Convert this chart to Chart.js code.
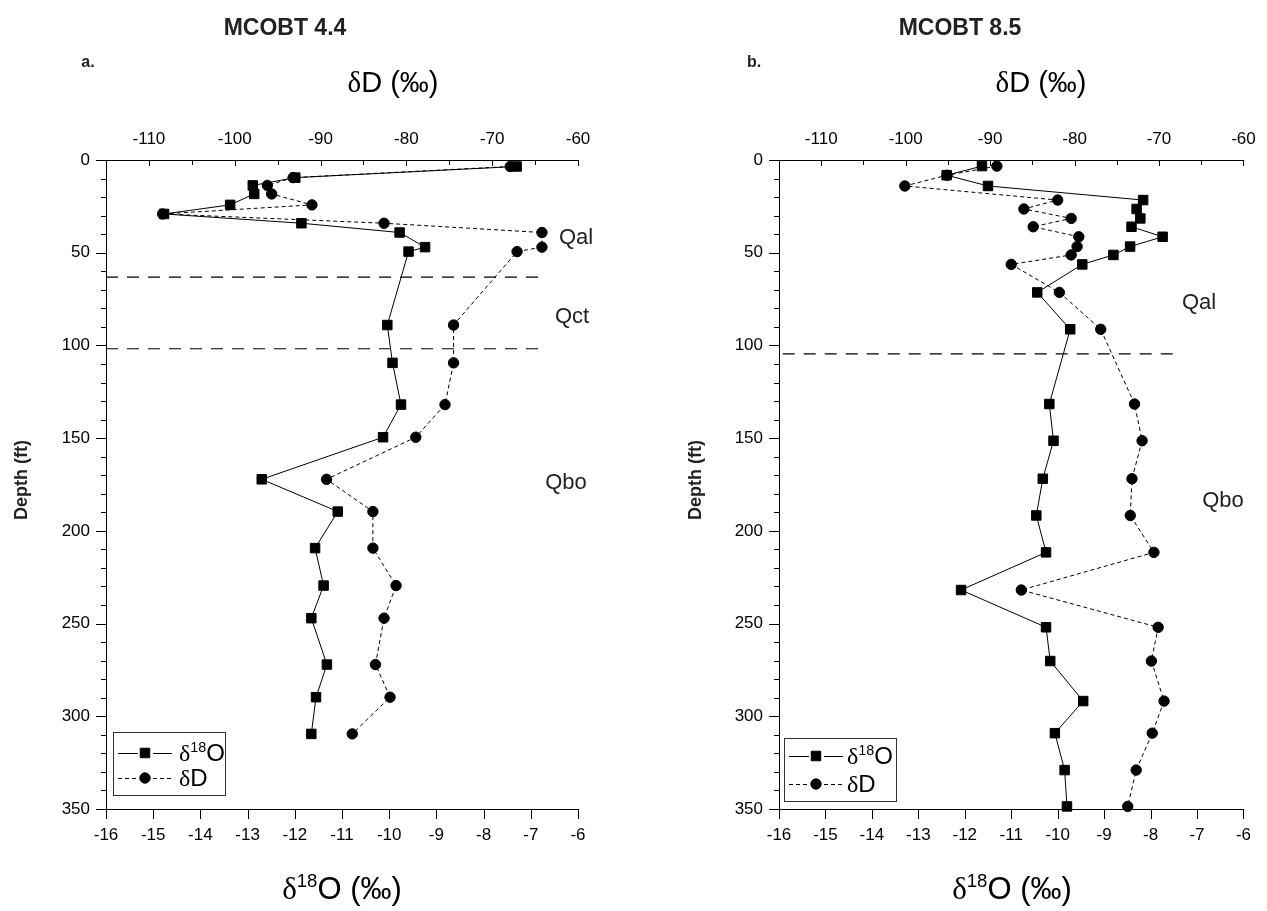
<!DOCTYPE html>
<html><head><meta charset="utf-8">
<script src="https://cdn.jsdelivr.net/npm/chart.js@4/dist/chart.umd.min.js"></script>
<style>
html,body{margin:0;padding:0;background:#fff;}
#wrap{position:relative;width:1267px;height:911px;overflow:hidden;font-family:"Liberation Sans",Arial,sans-serif;color:#000;}
canvas{position:absolute;left:0;top:0;}
#ov{position:absolute;left:0;top:0;width:1267px;height:911px;pointer-events:none;}
.t{position:absolute;transform:translate(-50%,-50%);white-space:nowrap;line-height:1;}
.title{font-weight:bold;font-size:23px;color:#222;}
.pl{font-weight:bold;font-size:16px;color:#222;}
.axt{font-size:29px;}
.axb{font-size:31px;}
.d{font-family:"Liberation Serif","Times New Roman",serif;}
.sup{font-size:0.6em;position:relative;top:-0.65em;}
.ylab{font-weight:bold;font-size:18px;color:#222;transform:translate(-50%,-50%) rotate(-90deg);}
.geo{font-size:22px;color:#222;}
.leg{position:absolute;border:1px solid #333;box-sizing:border-box;}
.lt{position:absolute;font-size:24px;line-height:1;transform:translate(0,-50%);white-space:nowrap;}
</style></head><body>
<div id="wrap">
<canvas id="cA" width="1267" height="911"></canvas>
<canvas id="cB" width="1267" height="911"></canvas>
<div id="ov">
  <div class="t title" style="left:285px;top:27px;">MCOBT 4.4</div>
  <div class="t title" style="left:960px;top:27px;">MCOBT 8.5</div>
  <div class="t pl" style="left:88px;top:62px;">a.</div>
  <div class="t pl" style="left:754px;top:62px;">b.</div>
  <div class="t axt" style="left:393px;top:82px;"><span class="d">δ</span>D (‰)</div>
  <div class="t axt" style="left:1041px;top:82px;"><span class="d">δ</span>D (‰)</div>
  <div class="t axb" style="left:342px;top:888px;"><span class="d">δ</span><span class="sup">18</span>O (‰)</div>
  <div class="t axb" style="left:1012px;top:888px;"><span class="d">δ</span><span class="sup">18</span>O (‰)</div>
  <div class="t ylab" style="left:21px;top:480px;">Depth (ft)</div>
  <div class="t ylab" style="left:695px;top:480px;">Depth (ft)</div>
  <div class="t geo" style="left:576px;top:237px;">Qal</div>
  <div class="t geo" style="left:572px;top:316px;">Qct</div>
  <div class="t geo" style="left:566px;top:482px;">Qbo</div>
  <div class="t geo" style="left:1199px;top:302px;">Qal</div>
  <div class="t geo" style="left:1223px;top:500px;">Qbo</div>
  <div class="leg" style="left:113px;top:732px;width:113px;height:64px;"></div>
  <div class="leg" style="left:784px;top:738px;width:113px;height:64px;"></div>
  <div class="lt" style="left:179px;top:753px;"><span class="d">δ</span><span class="sup">18</span>O</div>
  <div class="lt" style="left:179px;top:778px;"><span class="d">δ</span>D</div>
  <div class="lt" style="left:847px;top:756px;"><span class="d">δ</span><span class="sup">18</span>O</div>
  <div class="lt" style="left:847px;top:784px;"><span class="d">δ</span>D</div>
</div>
</div>
<script>
// ---- Data: MCOBT 4.4 (panel a) ----
const depthA = [3.5, 9.5, 13.7, 18.3, 24.2, 29.1, 34.1, 39.1, 47.0, 49.4, 89.0, 109.4, 131.9, 149.5, 172.2, 189.6, 209.3, 229.5, 247.1, 272.1, 289.7, 309.5];
const d18O_A = [-7.30, -11.99, -12.89, -12.86, -13.37, -14.77, -11.86, -9.78, -9.24, -9.59, -10.04, -9.93, -9.75, -10.13, -12.70, -11.09, -11.57, -11.39, -11.65, -11.32, -11.55, -11.65];
const dD_A = [-67.9, -93.2, -96.2, -95.7, -91.0, -108.4, -82.6, -64.2, -64.2, -67.1, -74.5, -74.5, -75.5, -78.9, -89.3, -83.9, -83.9, -81.2, -82.6, -83.6, -81.9, -86.3];
const contactsA = [63.2, 101.8];
const contactSpanA = [-16, -6.8];

// ---- Data: MCOBT 8.5 (panel b) ----
const depthB = [3.3, 8.2, 14.0, 21.6, 26.4, 31.5, 36.0, 41.4, 46.7, 51.2, 56.3, 71.4, 91.3, 131.6, 151.4, 171.9, 191.7, 211.6, 231.9, 252.0, 270.2, 291.8, 309.1, 329.0, 348.6];
const d18O_B = [-11.63, -12.39, -11.50, -8.16, -8.30, -8.22, -8.41, -7.74, -8.44, -8.80, -9.47, -10.44, -9.73, -10.18, -10.09, -10.32, -10.46, -10.25, -12.08, -10.25, -10.16, -9.45, -10.06, -9.85, -9.80];
const dD_B = [-89.2, -95.1, -100.1, -82.0, -86.0, -80.4, -84.9, -79.5, -79.7, -80.4, -87.5, -81.8, -76.9, -72.9, -72.0, -73.2, -73.4, -70.6, -86.3, -70.1, -70.9, -69.4, -70.8, -72.7, -73.7];
const contactsB = [104.6];
const contactSpanB = [-15.92, -7.49];

// ---- Axis ticks ----
const oTicks = [-16, -15, -14, -13, -12, -11, -10, -9, -8, -7, -6];
const dTicks = [-110, -100, -90, -80, -70, -60];
const dMinor = [-105, -95, -85, -75, -65];
const depthTicks = [0, 50, 100, 150, 200, 250, 300, 350];
const depthMinor = [10,20,30,40,60,70,80,90,110,120,130,140,160,170,180,190,210,220,230,240,260,270,280,290,310,320,330,340];

const FONT = '"Liberation Sans", Arial, sans-serif';

const tickPlugin = {
  id: 'tickMarks',
  afterDraw(chart, args, opts) {
    const ctx = chart.ctx, a = chart.chartArea;
    const sx = chart.scales.xO, sd = chart.scales.xD, sy = chart.scales.y;
    ctx.save();
    ctx.strokeStyle = '#000';
    ctx.lineWidth = 1;
    ctx.beginPath();
    oTicks.forEach(v => { const x = Math.round(sx.getPixelForValue(v)) + 0.5; ctx.moveTo(x, a.bottom); ctx.lineTo(x, a.bottom + 10); });
    dTicks.forEach(v => { const x = Math.round(sd.getPixelForValue(v)) + 0.5; ctx.moveTo(x, a.top); ctx.lineTo(x, a.top + 6); });
    dMinor.forEach(v => { const x = Math.round(sd.getPixelForValue(v)) + 0.5; ctx.moveTo(x, a.top); ctx.lineTo(x, a.top + 5); });
    depthTicks.forEach(v => { const y = Math.round(sy.getPixelForValue(v)) + 0.5; ctx.moveTo(a.left, y); ctx.lineTo(a.left - 10, y); });
    depthMinor.forEach(v => { const y = Math.round(sy.getPixelForValue(v)) + 0.5; ctx.moveTo(a.left, y); ctx.lineTo(a.left - 5, y); });
    ctx.stroke();
    // legend samples
    const L = opts.legend;
    const ds = chart.data.datasets;
    [0, 1].forEach(i => {
      const y = L.rows[i];
      const d = ds[i];
      ctx.strokeStyle = '#000';
      ctx.fillStyle = '#000';
      ctx.lineWidth = 1;
      ctx.setLineDash(d.borderDash || []);
      ctx.beginPath();
      ctx.moveTo(L.x + 5, y + 0.5); ctx.lineTo(L.x + 25, y + 0.5);
      ctx.moveTo(L.x + 40, y + 0.5); ctx.lineTo(L.x + 59, y + 0.5);
      ctx.stroke();
      ctx.setLineDash([]);
      Chart.helpers.drawPoint(ctx, {pointStyle: d.pointStyle, radius: d.pointRadius, rotation: 0, borderWidth: 1}, L.x + 32, y);
    });
    ctx.restore();
  }
};

function makeChart(id, depth, o, d, contacts, span, left, right, legend) {
  const datasets = [
    { label: 'δ18O', data: depth.map((y, i) => ({x: o[i], y})), xAxisID: 'xO', yAxisID: 'y',
      showLine: true, borderColor: '#000', backgroundColor: '#000', borderWidth: 1,
      pointStyle: 'rect', pointRadius: 6.7, pointHoverRadius: 6.7, pointBorderWidth: 1, clip: 14 },
    { label: 'δD', data: depth.map((y, i) => ({x: d[i], y})), xAxisID: 'xD', yAxisID: 'y',
      showLine: true, borderColor: '#000', backgroundColor: '#000', borderWidth: 1, borderDash: [4, 3],
      pointStyle: 'circle', pointRadius: 5.2, pointHoverRadius: 5.2, pointBorderWidth: 1, clip: 14 }
  ];
  contacts.forEach(c => datasets.push({
    label: 'contact', data: [{x: span[0], y: c}, {x: span[1], y: c}], xAxisID: 'xO', yAxisID: 'y',
    showLine: true, borderColor: '#000', borderWidth: 1.2, borderDash: [12, 9], pointRadius: 0, pointHoverRadius: 0
  }));
  const tickFont = {family: FONT, size: 17};
  return new Chart(document.getElementById(id), {
    type: 'scatter',
    data: {datasets},
    options: {
      responsive: false,
      animation: false,
      events: [],
      layout: {padding: {left: 0, right: 1267 - right, top: 0, bottom: 0}},
      plugins: {legend: {display: false}, tooltip: {enabled: false}, tickMarks: {legend}},
      scales: {
        xO: {
          type: 'linear', position: 'bottom', min: -16, max: -6,
          afterBuildTicks: s => { s.ticks = oTicks.map(v => ({value: v})); },
          afterFit: s => { s.height = 102; },
          grid: {display: false, drawTicks: false},
          border: {display: true, color: '#000', width: 1},
          ticks: {padding: 16, color: '#000', font: tickFont, autoSkip: false, maxRotation: 0, callback: v => String(v)}
        },
        xD: {
          type: 'linear', position: 'top', min: -115, max: -60,
          afterBuildTicks: s => { s.ticks = dTicks.map(v => ({value: v})); },
          afterFit: s => { s.height = 160; },
          grid: {display: false, drawTicks: false},
          border: {display: true, color: '#000', width: 1},
          ticks: {padding: 10, color: '#000', font: tickFont, autoSkip: false, maxRotation: 0, callback: v => String(v)}
        },
        y: {
          type: 'linear', position: 'left', min: 0, max: 350, reverse: true,
          afterBuildTicks: s => { s.ticks = depthTicks.map(v => ({value: v})); },
          afterFit: s => { s.width = left; },
          grid: {display: false, drawTicks: false},
          border: {display: true, color: '#000', width: 1},
          ticks: {padding: 16, color: '#000', font: tickFont, autoSkip: false, callback: v => String(v)}
        }
      }
    },
    plugins: [tickPlugin]
  });
}

makeChart('cA', depthA, d18O_A, dD_A, contactsA, contactSpanA, 106, 578, {x: 113, rows: [753, 778]});
makeChart('cB', depthB, d18O_B, dD_B, contactsB, contactSpanB, 779, 1250, {x: 784, rows: [756, 784]});
</script>
</body></html>
